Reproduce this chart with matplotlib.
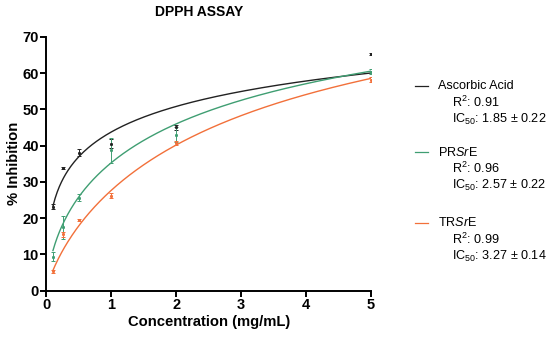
import numpy as np
import matplotlib
matplotlib.use("Agg")
import matplotlib.pyplot as plt

plt.rcParams['font.family'] = ['Liberation Sans', 'DejaVu Sans']
plt.rcParams['mathtext.fontset'] = 'custom'
plt.rcParams['mathtext.rm'] = 'Liberation Sans'
plt.rcParams['mathtext.it'] = 'Liberation Sans:italic'
plt.rcParams['mathtext.bf'] = 'Liberation Sans:bold'

conc = [0.1, 0.25, 0.5, 1, 2, 5]

aa_mean = [23.2, 33.9, 38.0, 40.5, 45.0, 65.2]
aa_sd = [0.8, 0.3, 1.0, 1.2, 0.7, 0.3]
pr_mean = [9.4, 17.5, 25.6, 38.7, 43.0, 60.4]
pr_sd = [1.3, 3.2, 1.0, 3.5, 2.0, 0.7]
tr_mean = [5.3, 15.5, 19.5, 26.2, 40.7, 58.2]
tr_sd = [0.3, 0.6, 0.3, 0.6, 0.5, 0.8]

series_names = ["Ascorbic Acid", "PR$\\mathit{Sr}$E", "TR$\\mathit{Sr}$E"]
r2_values = ["0.91", "0.96", "0.99"]
ic50_values = ["1.85 ± 0.22", "2.57 ± 0.22", "3.27 ± 0.14"]
ic50_fit = [1.85, 2.57, 3.27]
hill_fit = [0.408, 0.642, 0.81]

colors = ["#222222", "#3f9e72", "#f2703a"]
means = [aa_mean, pr_mean, tr_mean]
sds = [aa_sd, pr_sd, tr_sd]

fig = plt.figure(figsize=(5.5, 3.4), dpi=100)
ax = fig.add_axes([0.0845, 0.145, 0.59, 0.747])

xs = np.linspace(0.1, 5, 300)
for m, s, c, ic, h in zip(means, sds, colors, ic50_fit, hill_fit):
    ax.errorbar(conc, m, yerr=s, fmt='s', ms=1.1, color=c, ecolor=c,
                elinewidth=0.7, capsize=1.5, capthick=0.7, zorder=3)
    ys = 100.0 / (1.0 + (ic / xs) ** h)
    ax.plot(xs, ys, color=c, lw=1.0, zorder=2)

ax.set_xlim(0, 5)
ax.set_ylim(0, 70)
ax.set_xticks([0, 1, 2, 3, 4, 5])
ax.set_yticks(range(0, 71, 10))
for sp in ['top', 'right']:
    ax.spines[sp].set_visible(False)
for sp in ['left', 'bottom']:
    ax.spines[sp].set_linewidth(1.4)
ax.tick_params(width=1.4, length=4, labelsize=10.5, pad=1.5)
for lab in ax.get_xticklabels() + ax.get_yticklabels():
    lab.set_fontweight('bold')
ax.set_xlabel("Concentration (mg/mL)", fontsize=10.6, fontweight='bold', labelpad=2)
ax.set_ylabel("% Inhibition", fontsize=10.6, fontweight='bold', labelpad=1)
fig.text(199 / 550, 1 - 12 / 340, "DPPH ASSAY", fontsize=10, fontweight='bold',
         ha='center', va='center')

W, H = 550, 340
legend_y = [86, 152, 223]
for name, r2, ic, c, y in zip(series_names, r2_values, ic50_values, colors, legend_y):
    fig.add_artist(plt.Line2D([415 / W, 428 / W], [1 - y / H, 1 - y / H],
                              color=c, lw=0.9, transform=fig.transFigure))
    fig.text(438 / W, 1 - y / H, name, fontsize=9.1, va='center', ha='left')
    fig.text(452 / W, 1 - (y + 16.5) / H, "R$^2$: " + r2, fontsize=9.1, va='center', ha='left')
    fig.text(452 / W, 1 - (y + 33) / H, "IC$_{50}$: " + ic, fontsize=9.1, va='center', ha='left')

fig.savefig("out.png", dpi=100)
